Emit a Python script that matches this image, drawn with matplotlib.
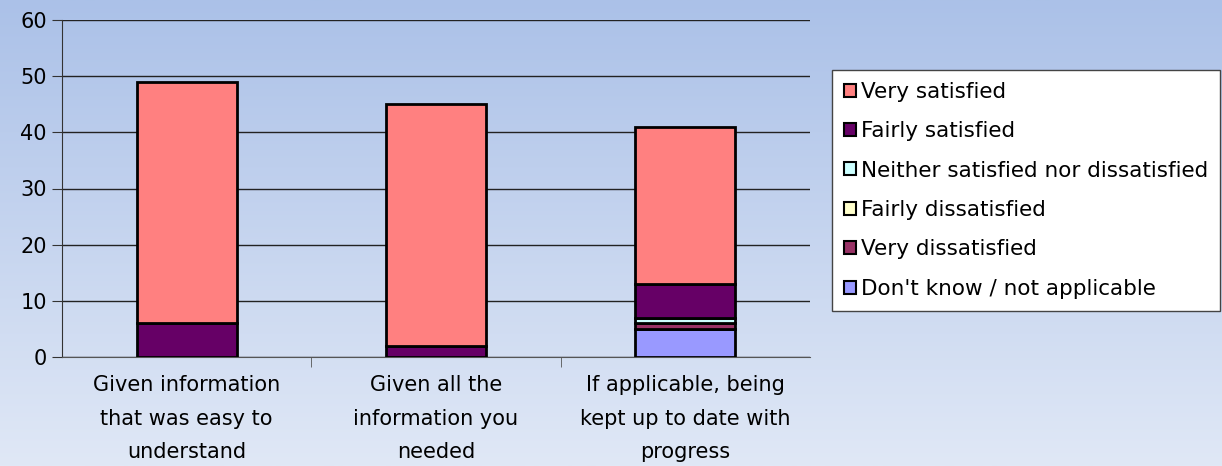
import numpy as np
import matplotlib.pyplot as plt

# Data
categories = ['Given information\nthat was easy to\nunderstand',
              'Given all the\ninformation you\nneeded',
              'If applicable, being\nkept up to date with\nprogress']
series = ['Very satisfied', 'Fairly satisfied', 'Neither satisfied nor dissatisfied',
          'Fairly dissatisfied', 'Very dissatisfied', "Don't know / not applicable"]
very_sat = [43, 43, 28]
fairly_sat = [6, 2, 6]
neither = [0, 0, 1]
fairly_dis = [0, 0, 0]
very_dis = [0, 0, 1]
dont_know = [0, 0, 5]
colors = ['#ff8080', '#660066', '#ccffff', '#ffffcc', '#993366', '#9999ff']

plt.rcParams['font.family'] = ['DejaVu Sans']

fig = plt.figure(figsize=(12.22, 4.66), dpi=100)

# background gradient
bg = fig.add_axes([0, 0, 1, 1], zorder=-10)
grad = np.linspace(0, 1, 256).reshape(-1, 1)
top = np.array([0xab, 0xc1, 0xe8]) / 255
bot = np.array([0xe0, 0xe8, 0xf6]) / 255
img = top + (bot - top) * grad[:, :, None]
bg.imshow(img, aspect='auto', extent=[0, 1, 0, 1])
bg.axis('off')

W, H = 1222, 466
ax = fig.add_axes([62 / W, 1 - 357 / H, (810 - 62) / W, (357 - 20) / H])
ax.patch.set_alpha(0)

# stack from bottom: don't know, very dis, fairly dis, neither, fairly sat, very sat
stack = [dont_know, very_dis, fairly_dis, neither, fairly_sat, very_sat]
stack_colors = colors[::-1]
x = np.arange(len(categories))
bottom = np.zeros(len(categories))
bars = {}
for vals, col, name in zip(stack, stack_colors, series[::-1]):
    vals = np.array(vals, dtype=float)
    b = ax.bar(x, vals, width=0.4, bottom=bottom, color=col, edgecolor='black',
               linewidth=2, zorder=3, label=name)
    bars[name] = b
    bottom += vals

ax.set_xlim(-0.5, 2.5)
ax.set_ylim(0, 60)
ax.set_yticks(range(0, 61, 10))
ax.yaxis.grid(True, color='#222222', linewidth=1)
ax.set_axisbelow(True)
ax.tick_params(axis='y', labelsize=15, length=7, color='#333333', direction='out', pad=4)
ax.set_xticks(x)
ax.set_xticklabels(categories, fontsize=15, linespacing=1.85)
ax.tick_params(axis='x', length=0, pad=13)
ax.set_xticks([0.5, 1.5], minor=True)
ax.tick_params(axis='x', which='minor', length=7, color='#555555')
for s in ['top', 'right']:
    ax.spines[s].set_visible(False)
ax.spines['left'].set_color('#333333')
ax.spines['bottom'].set_color('#555555')

handles = [bars[n] for n in series]
leg = fig.legend(handles, series, loc='upper left',
                 bbox_to_anchor=(832 / W, 1 - 70 / H), fontsize=15.5,
                 frameon=True, fancybox=False, edgecolor='#444444', framealpha=1,
                 handlelength=0.55, handleheight=0.55, handletextpad=0.25,
                 labelspacing=0.9, borderpad=0.55, borderaxespad=0)
leg.get_frame().set_linewidth(1)
for h in leg.legend_handles:
    h.set_linewidth(1.5)

fig.savefig('out.png', dpi=100)
